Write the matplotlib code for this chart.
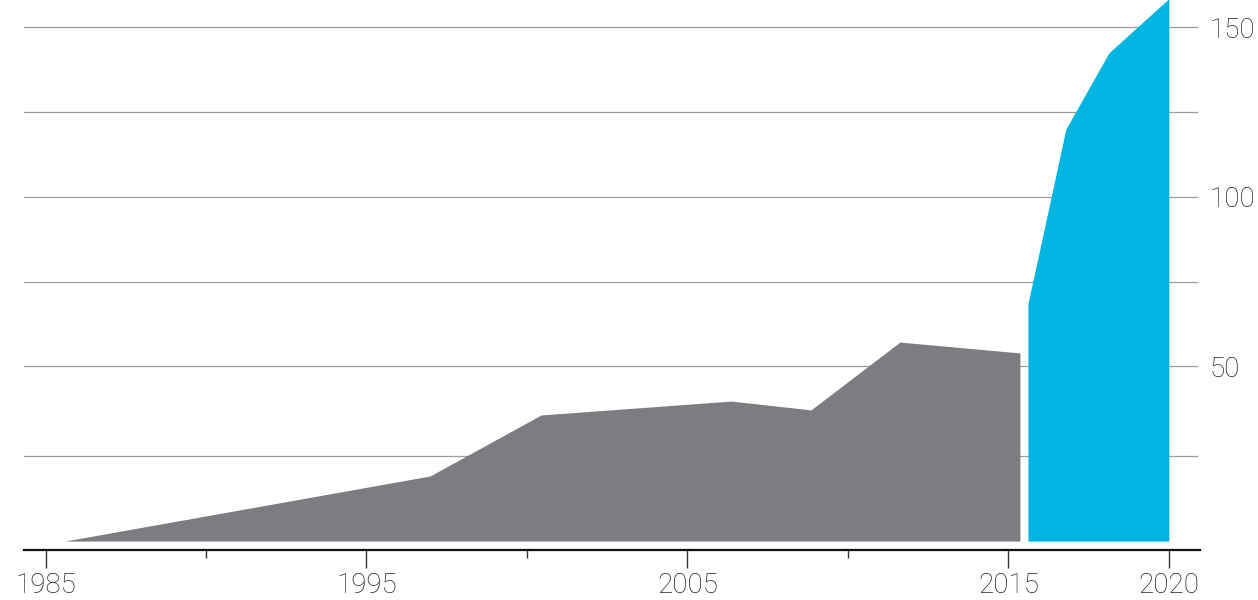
import numpy as np
import matplotlib.pyplot as plt

plt.rcParams['font.family'] = ['Roboto', 'DejaVu Sans']

# historical series (grey)
hist_years = [1985.6, 1996.98, 2000.44, 2006.36, 2008.85, 2011.62, 2015.36]
hist_vals = [-1.5, 17.7, 35.7, 39.8, 37.2, 57.2, 54.0]

# forecast series (blue)
fc_years = [2015.61, 2015.76, 2016.79, 2018.13, 2020.0]
fc_vals = [68.7, 75.0, 120.0, 142.5, 158.5]

baseline = -1.5
grid_vals = [23.5, 50, 75, 100, 125, 150]
ylabels = [50, 100, 150]
major_years = [1985, 1995, 2005, 2015, 2020]
minor_years = [1990, 2000, 2010]

grey = '#7b7d81'
blue = '#00b5e0'

fig = plt.figure(figsize=(12.58, 6), dpi=100)
ax = fig.add_axes([24/1258, 50/600, 1176/1258, 550/600])

for g in grid_vals:
    ax.axhline(g, xmin=0, xmax=0.9975, color='#9c9c9c', lw=0.9, zorder=0)

ax.fill_between(hist_years, baseline, hist_vals, color=grey, lw=0, zorder=2)
ax.fill_between(fc_years, baseline, fc_vals, color=blue, lw=0, zorder=2)

ax.set_xlim(1984.33, 2020.97)
ax.set_ylim(-4.13, 158.1)

for s in ['top', 'left', 'right']:
    ax.spines[s].set_visible(False)
ax.spines['bottom'].set_linewidth(1.6)
ax.spines['bottom'].set_color('#111111')

ax.set_xticks(major_years)
ax.set_xticklabels([str(y) for y in major_years])
ax.set_xticks(minor_years, minor=True)
ax.tick_params(axis='x', which='major', length=13, width=1, color='#333333',
               labelsize=20, pad=3, labelcolor='#222222')
ax.tick_params(axis='x', which='minor', length=6, width=1, color='#333333')

ax.yaxis.tick_right()
ax.set_yticks(ylabels)
ax.set_yticklabels([str(v) for v in ylabels])
ax.tick_params(axis='y', length=0, pad=7, labelsize=20, labelcolor='#222222')
for lab in ax.get_xticklabels() + ax.get_yticklabels():
    lab.set_fontweight('light')

fig.savefig('out.png', dpi=100)
